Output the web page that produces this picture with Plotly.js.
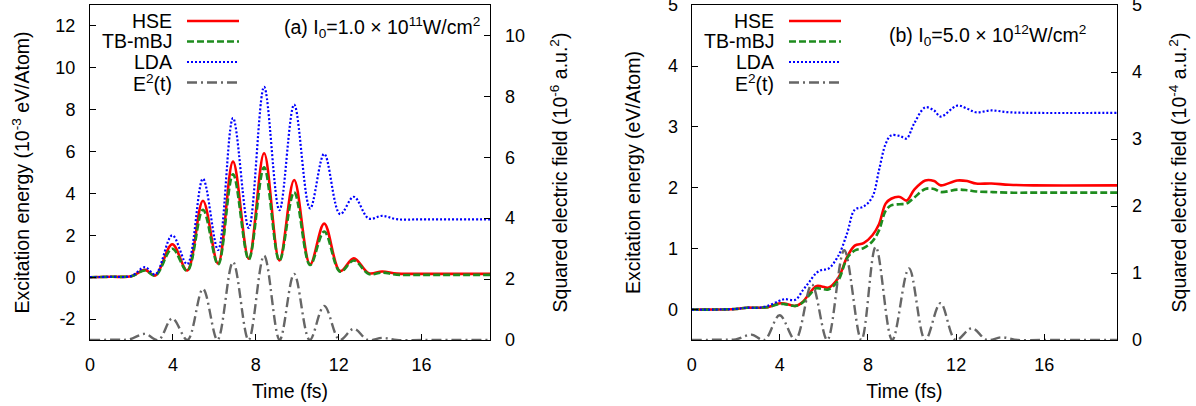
<!DOCTYPE html>
<html><head><meta charset="utf-8">
<script src="https://cdn.plot.ly/plotly-3.0.1.min.js"></script>
<style>html,body{margin:0;padding:0;background:#fff}#chart{width:1196px;height:406px}</style>
</head><body><div id="chart"></div>
<script>
// ---------- Panel (a): I0 = 1.0e11 W/cm^2 ----------
const tA   = [0, 1.0, 2.0, 2.65, 3.15, 3.97, 4.69, 5.45, 6.18, 6.9, 7.66, 8.4, 9.14, 9.85, 10.62, 11.3, 12.07, 12.73, 13.45, 14.1, 14.8, 16, 19.3];
const hseA = [0, 0.02, 0.05, 0.35, 0.08, 1.57, 0.32, 3.65, 0.65, 5.52, 0.88, 5.92, 0.80, 4.64, 0.61, 2.56, 0.29, 0.90, 0.19, 0.27, 0.17, 0.16, 0.16];
const tbA  = [0, 0.02, 0.05, 0.32, 0.07, 1.36, 0.30, 3.22, 0.60, 4.92, 0.85, 5.25, 0.78, 4.06, 0.58, 2.18, 0.26, 0.80, 0.15, 0.22, 0.12, 0.11, 0.11];
const ldaA = [0, 0.02, 0.06, 0.48, 0.13, 2.00, 0.62, 4.70, 1.30, 7.60, 2.35, 9.09, 3.20, 8.24, 3.28, 5.89, 3.01, 3.84, 2.80, 2.93, 2.77, 2.76, 2.76];
const tAE  = [0, 1.2, 1.9, 2.65, 3.3, 3.97, 4.7, 5.45, 6.15, 6.9, 7.65, 8.4, 9.15, 9.85, 10.6, 11.3, 12.05, 12.73, 13.4, 14.1, 14.8, 16, 19.3];
const e2A  = [0, 0.01, 0.02, 0.20, 0, 0.71, 0, 1.68, 0, 2.56, 0, 2.77, 0, 2.17, 0, 1.12, 0, 0.37, 0, 0.07, 0, 0, 0];

// ---------- Panel (b): I0 = 5.0e12 W/cm^2 ----------
const tB   = [0, 1.0, 2.0, 2.5, 3.0, 3.45, 3.95, 4.2, 4.7, 5.05, 5.35, 5.65, 5.9, 6.2, 6.65, 7.05, 7.4, 7.8, 8.2, 8.5, 8.8, 9.05, 9.45, 9.75, 10.1, 10.6, 11.0, 11.3, 12.05, 12.5, 12.9, 13.6, 14.4, 15.5, 19.3];
const hseB = [0, 0, 0.01, 0.03, 0.03, 0.04, 0.10, 0.10, 0.06, 0.13, 0.27, 0.385, 0.38, 0.36, 0.52, 0.86, 1.05, 1.09, 1.22, 1.40, 1.74, 1.82, 1.85, 1.79, 1.97, 2.12, 2.11, 2.04, 2.12, 2.11, 2.07, 2.07, 2.05, 2.04, 2.04];
const tbB  = [0, 0, 0.01, 0.03, 0.03, 0.04, 0.09, 0.09, 0.06, 0.12, 0.24, 0.35, 0.34, 0.33, 0.48, 0.84, 0.97, 1.01, 1.12, 1.30, 1.62, 1.71, 1.73, 1.74, 1.84, 1.98, 1.98, 1.93, 1.97, 1.96, 1.94, 1.93, 1.92, 1.92, 1.92];
const ldaB = [0, 0, 0.01, 0.03, 0.03, 0.06, 0.14, 0.17, 0.16, 0.32, 0.46, 0.60, 0.65, 0.67, 0.88, 1.25, 1.64, 1.69, 1.85, 2.29, 2.72, 2.86, 2.85, 2.81, 3.06, 3.32, 3.27, 3.17, 3.35, 3.30, 3.24, 3.27, 3.24, 3.23, 3.23];
const tBE  = [0, 1.3, 2.0, 2.71, 3.3, 3.99, 4.7, 5.45, 6.15, 6.92, 7.7, 8.35, 9.1, 9.86, 10.6, 11.29, 11.98, 12.71, 13.4, 14.06, 14.8, 16, 19.3];
const e2B  = [0, 0.005, 0.01, 0.08, 0, 0.37, 0, 0.83, 0, 1.34, 0, 1.39, 0, 1.07, 0, 0.55, 0, 0.175, 0, 0.04, 0, 0, 0];

// ---------- labels ----------
const seriesNames = ['HSE', 'TB-mBJ', 'LDA', 'E<sup>2</sup>(t)'];
const xTicks = [0, 4, 8, 12, 16];
const yTicksA = [-2, 0, 2, 4, 6, 8, 10, 12];
const yTickTextA = ['-2', '0', '2', '4', '6', '8', '10', '12'];
const y2TicksA = [0, 2, 4, 6, 8, 10];
const yTicksB = [0, 1, 2, 3, 4, 5];

const FONT = 'Liberation Sans, Arial, Helvetica, sans-serif';
const styles = [
  {color: '#ff0000', width: 2.6, dash: 'solid'},
  {color: '#1e8c1e', width: 2.6, dash: '7px,3px'},
  {color: '#0000ff', width: 2.2, dash: '2px,2px'},
  {color: '#666666', width: 2.4, dash: '10px,4px,2px,4px'}
];

function tr(x, y, i, xa, ya) {
  return {x: x, y: y, type: 'scatter', mode: 'lines', name: seriesNames[i], showlegend: false,
          xaxis: xa, yaxis: ya, line: Object.assign({shape: 'spline', smoothing: 1}, styles[i]),
          hoverinfo: 'skip'};
}

const data = [
  tr(tA, hseA, 0, 'x', 'y'), tr(tA, tbA, 1, 'x', 'y'), tr(tA, ldaA, 2, 'x', 'y'), tr(tAE, e2A, 3, 'x', 'y2'),
  tr(tB, hseB, 0, 'x2', 'y3'), tr(tB, tbB, 1, 'x2', 'y3'), tr(tB, ldaB, 2, 'x2', 'y3'), tr(tBE, e2B, 3, 'x2', 'y4')
];

const W = 1196, TOP = 5, BOT = 340;
const px = v => v / W;
const py = v => (BOT - v) / (BOT - TOP);

const tickFont = {family: FONT, size: 18, color: '#000'};
const titleFont = {family: FONT, size: 19.5, color: '#000'};
const common = {showgrid: false, zeroline: false, ticks: 'inside', ticklen: 6, tickcolor: '#000',
                tickfont: tickFont, linecolor: '#000', linewidth: 1, automargin: false,
                ticklabeloverflow: 'allow'};

const layout = {
  width: 1196, height: 406,
  margin: {l: 0, r: 0, t: TOP, b: 406 - BOT},
  paper_bgcolor: '#fff', plot_bgcolor: '#fff',
  font: {family: FONT, size: 18, color: '#000'},
  showlegend: false,
  xaxis: Object.assign({}, common, {domain: [px(90), px(490)], range: [0, 19.3], tickvals: xTicks,
    showline: true, mirror: true, anchor: 'y', ticklabelstandoff: 8,
    title: {text: 'Time (fs)', font: titleFont, standoff: 10}}),
  yaxis: Object.assign({}, common, {domain: [0, 1], range: [-3, 13], tickvals: yTicksA, ticktext: yTickTextA,
    showline: true, mirror: true, anchor: 'x', ticklabelstandoff: 10,
    title: {text: 'Excitation energy (10<sup>-3</sup> eV/Atom)', font: titleFont, standoff: 20}}),
  yaxis2: Object.assign({}, common, {range: [0, 11], tickvals: y2TicksA, overlaying: 'y', side: 'right',
    anchor: 'x', showline: false, ticklabelstandoff: 14,
    title: {text: 'Squared electric field (10<sup>-6</sup> a.u.<sup>2</sup>)', font: titleFont, standoff: 29}}),
  xaxis2: Object.assign({}, common, {domain: [px(691.7), px(1117)], range: [0, 19.3], tickvals: xTicks,
    showline: true, mirror: true, anchor: 'y3', ticklabelstandoff: 8,
    title: {text: 'Time (fs)', font: titleFont, standoff: 10}}),
  yaxis3: Object.assign({}, common, {domain: [0, 1], range: [-0.5, 5.002], tickvals: yTicksB,
    showline: true, mirror: true, anchor: 'x2', ticklabelstandoff: 9,
    title: {text: 'Excitation energy (eV/Atom)', font: titleFont, standoff: 22}}),
  yaxis4: Object.assign({}, common, {range: [0, 5.002], tickvals: yTicksB, overlaying: 'y3', side: 'right',
    anchor: 'x2', showline: false, ticklabelstandoff: 14,
    title: {text: 'Squared electric field (10<sup>-4</sup> a.u.<sup>2</sup>)', font: titleFont, standoff: 31}}),
  shapes: [],
  annotations: [
    {text: '(a) I<sub>0</sub>=1.0 × 10<sup>11</sup>W/cm<sup>2</sup>', xref: 'paper', yref: 'paper',
     x: px(482), y: py(27), xanchor: 'right', yanchor: 'middle', showarrow: false, font: titleFont},
    {text: '(b) I<sub>0</sub>=5.0 × 10<sup>12</sup>W/cm<sup>2</sup>', xref: 'paper', yref: 'paper',
     x: px(1088), y: py(35), xanchor: 'right', yanchor: 'middle', showarrow: false, font: titleFont}
  ]
};

// legends (gnuplot style: text on the left, line sample on the right)
const rowsY = [21, 41.5, 62, 82.5];
[[174, 187, 239], [776, 789, 841]].forEach(function (p) {
  seriesNames.forEach(function (nm, i) {
    layout.annotations.push({text: nm, xref: 'paper', yref: 'paper', x: px(p[0]), y: py(rowsY[i]),
      xanchor: 'right', yanchor: 'middle', showarrow: false, font: titleFont});
    layout.shapes.push({type: 'line', xref: 'paper', yref: 'paper', x0: px(p[1]), x1: px(p[2]),
      y0: py(rowsY[i]), y1: py(rowsY[i]), line: styles[i]});
  });
});

Plotly.newPlot('chart', data, layout, {staticPlot: true, displayModeBar: false});
</script></body></html>
